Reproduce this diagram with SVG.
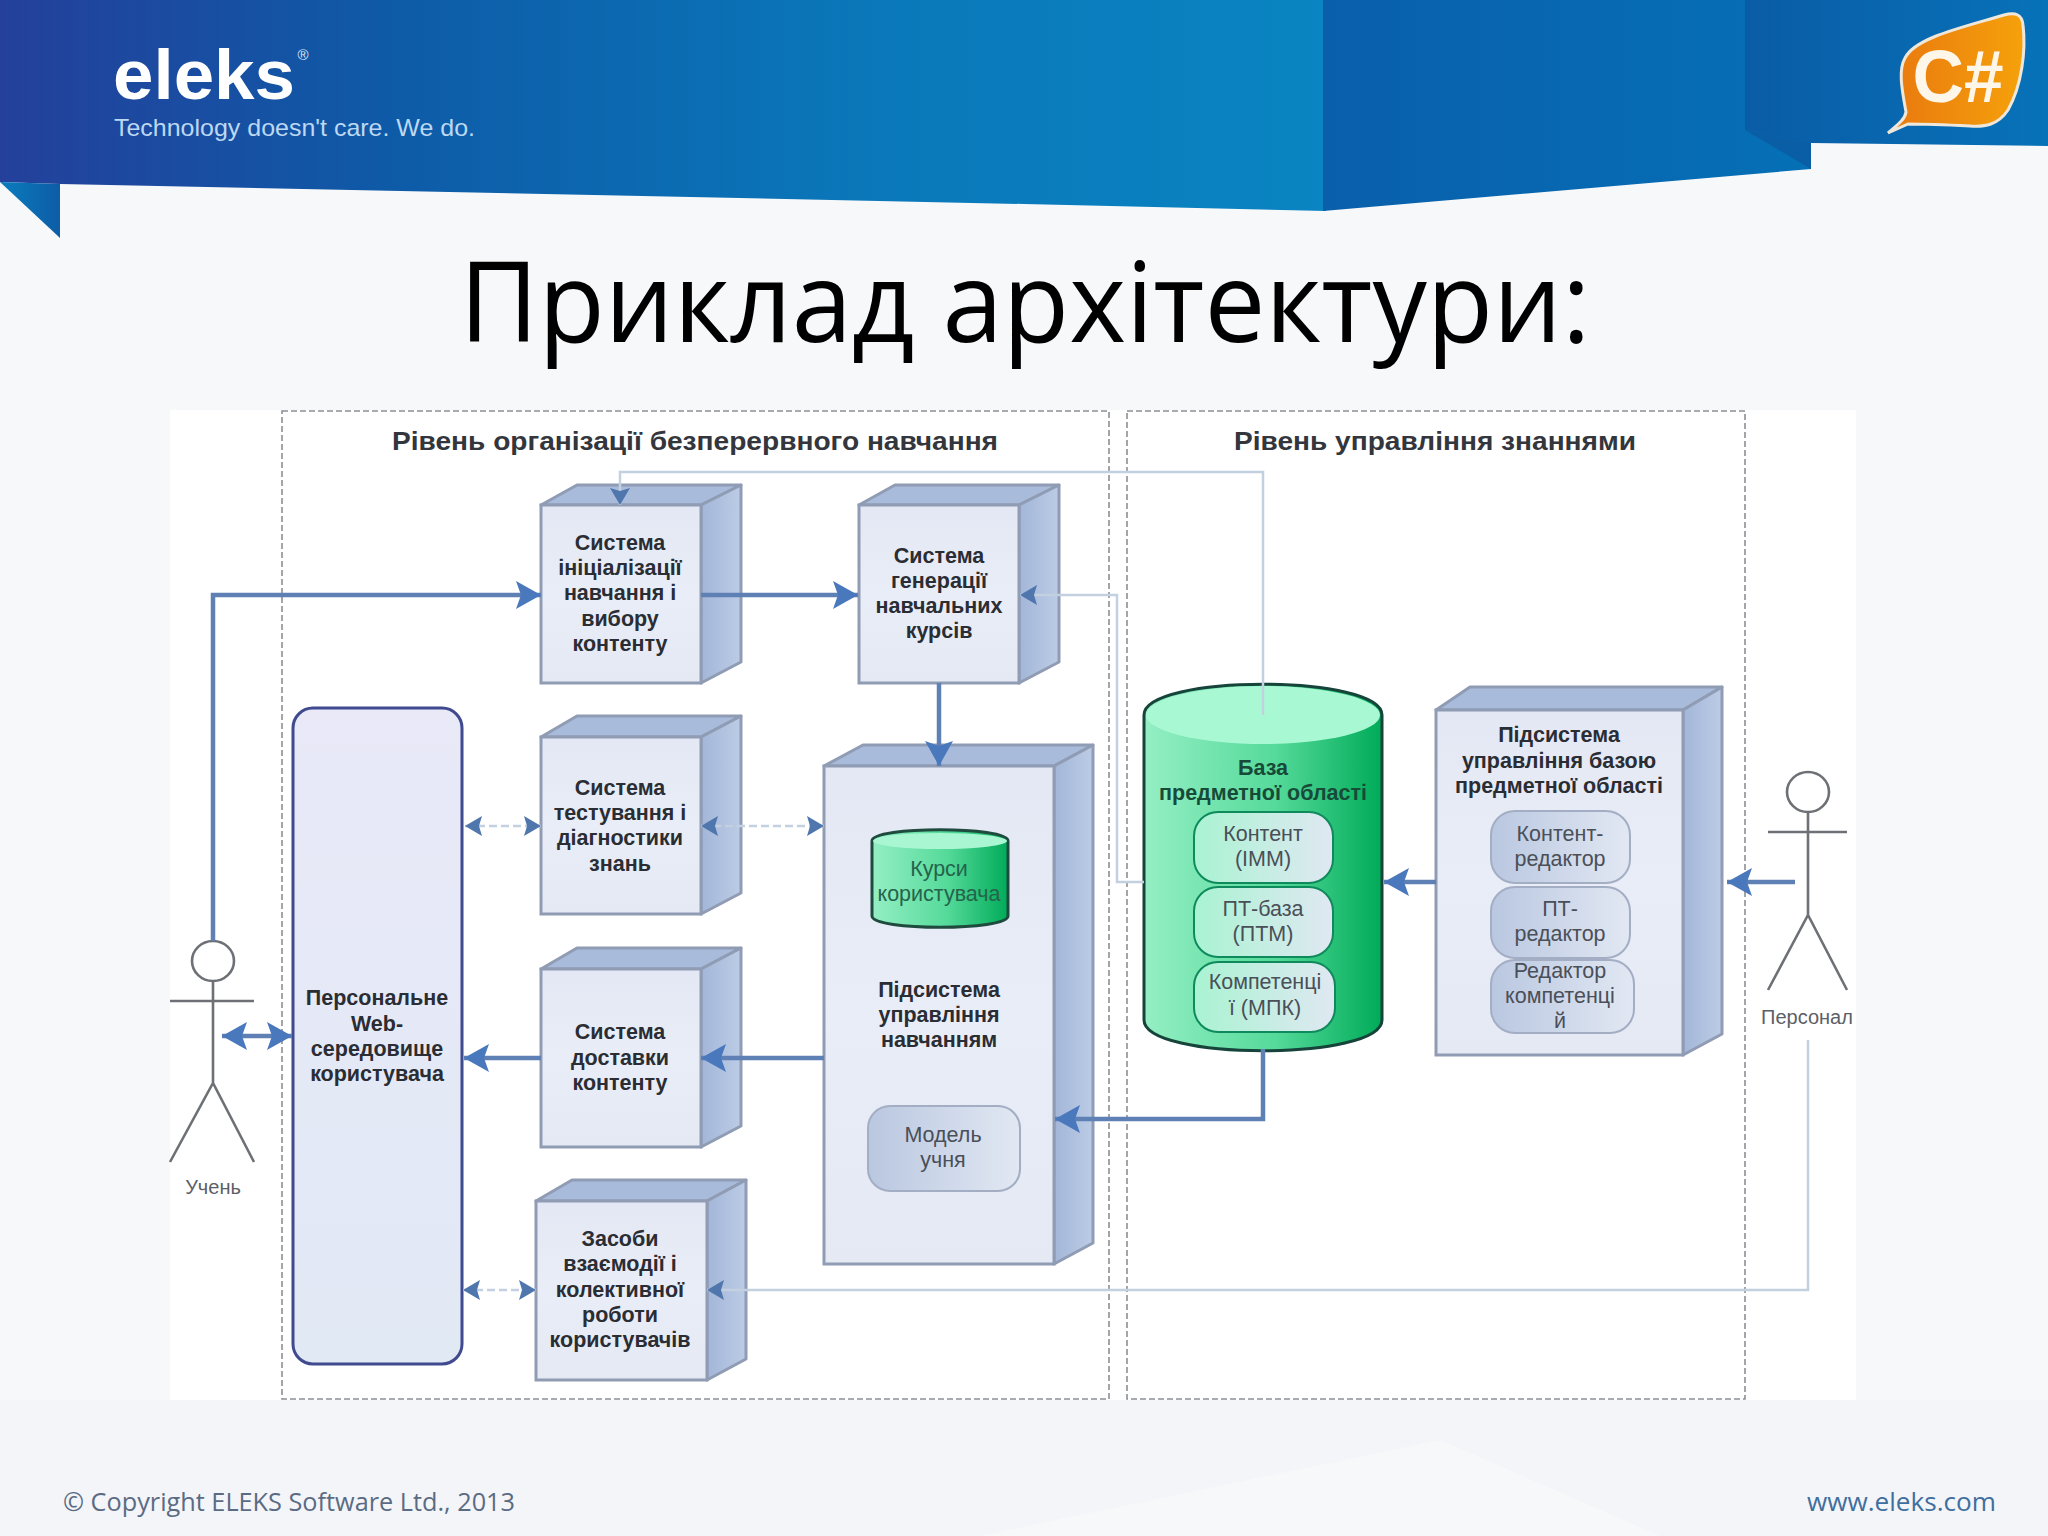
<svg xmlns="http://www.w3.org/2000/svg" width="2048" height="1536" viewBox="0 0 2048 1536">
<style>
text{font-family:"Liberation Sans",Arial,sans-serif;text-anchor:middle}
.lbl{font-size:21.5px;font-weight:700;fill:#2a2d33}
.sm{font-size:21.5px;fill:#4a4f58}
.lvl{font-size:26px;font-weight:700;fill:#33363c}
.act{font-size:20px;fill:#5c6066}
.front{fill:url(#gFront);stroke:#8f9cb4;stroke-width:3}
.top{fill:#a9bbdb;stroke:#8f9cb4;stroke-width:3;stroke-linejoin:round}
.side{fill:url(#gSide);stroke:#8f9cb4;stroke-width:3;stroke-linejoin:round}
.dash{fill:none;stroke:#8b9096;stroke-width:1.6;stroke-dasharray:6 3}
.thick{fill:none;stroke:#5f80b4;stroke-width:4.5}
.thin{fill:none;stroke:#c3d0df;stroke-width:2.5}
.thindash{fill:none;stroke:#c3d0df;stroke-width:2.5;stroke-dasharray:8 4}
.stick{fill:none;stroke:#6d7075;stroke-width:2.6}
.blue{fill:url(#gBlueChip);stroke:#a3aec4;stroke-width:2}
.green{fill:url(#gGreenChip);stroke:#0f8a5c;stroke-width:2}
</style>
<defs>
<linearGradient id="gHead" x1="0" x2="1" y1="0" y2="0"><stop offset="0" stop-color="#24409b"/><stop offset=".3" stop-color="#0e5ba8"/><stop offset=".66" stop-color="#0a78ba"/><stop offset="1" stop-color="#0a84c2"/></linearGradient>
<linearGradient id="gHead2" x1="0" x2="1" y1="0" y2="0"><stop offset="0" stop-color="#0a5fab"/><stop offset="1" stop-color="#0570b6"/></linearGradient>
<linearGradient id="gHead3" x1="0" x2="1" y1="0" y2="0"><stop offset="0" stop-color="#0a5ca6"/><stop offset="1" stop-color="#0772b8"/></linearGradient>
<linearGradient id="gTail" x1="0" x2="1" y1="0" y2="0"><stop offset="0" stop-color="#0a7dbe"/><stop offset="1" stop-color="#0d5ca6"/></linearGradient>
<linearGradient id="gOrange" x1="0" x2="1" y1="0" y2="0"><stop offset="0" stop-color="#e8780f"/><stop offset="1" stop-color="#f6a10b"/></linearGradient>
<linearGradient id="gFront" x1="0" x2="0" y1="0" y2="1"><stop offset="0" stop-color="#e3e8f4"/><stop offset=".5" stop-color="#e9edf7"/><stop offset="1" stop-color="#e4e9f4"/></linearGradient>
<linearGradient id="gSide" x1="0" x2="1" y1="0" y2="0"><stop offset="0" stop-color="#a3b6d8"/><stop offset="1" stop-color="#bccce6"/></linearGradient>
<linearGradient id="gWeb" x1="0" x2="0" y1="0" y2="1"><stop offset="0" stop-color="#e9e9f8"/><stop offset="1" stop-color="#e1e9f5"/></linearGradient>
<linearGradient id="gCyl" x1="0" x2="1" y1="0" y2="0"><stop offset="0" stop-color="#95efc4"/><stop offset=".55" stop-color="#55da9a"/><stop offset="1" stop-color="#00ab58"/></linearGradient>
<linearGradient id="gBlueChip" x1="0" x2="1" y1="0" y2="0"><stop offset="0" stop-color="#b9c7e0"/><stop offset="1" stop-color="#e2e8f3"/></linearGradient>
<linearGradient id="gGreenChip" x1="0" x2="1" y1="0" y2="0"><stop offset="0" stop-color="#a9f3d2"/><stop offset="1" stop-color="#e0e8f2"/></linearGradient>
<marker id="hB" markerUnits="userSpaceOnUse" markerWidth="26" markerHeight="28" viewBox="0 0 26 28" refX="25" refY="14" orient="auto-start-reverse"><path d="M0 0L25 14L0 28L5 14Z" fill="#4a78bd"/></marker>
<marker id="hS" markerUnits="userSpaceOnUse" markerWidth="18" markerHeight="20" viewBox="0 0 18 20" refX="17" refY="10" orient="auto-start-reverse"><path d="M0 0L17 10L0 20L3 10Z" fill="#4f76ad"/></marker>
</defs>

<rect width="2048" height="1536" fill="#f7f8fa"/>
<polygon points="0,1400 2048,1400 2048,1536 1660,1536 1440,1440 980,1536 0,1536" fill="#f4f5f8"/>

<g id="header">
<polygon points="0,0 1326,0 1326,211 1024,204 60,184 0,182" fill="url(#gHead)"/>
<polygon points="0,182 60,184 60,238" fill="url(#gTail)"/>
<polygon points="1323,0 1760,0 1811,140 1811,169 1323,211" fill="url(#gHead2)"/>
<polygon points="1745,0 2048,0 2048,146 1811,143 1745,130" fill="url(#gHead3)"/>
<polygon points="1745,130 1811,143 1811,169" fill="#0a5ea6"/>
<text id="logo" x="113" y="99" textLength="182" lengthAdjust="spacingAndGlyphs" style="text-anchor:start;font-size:70px;font-weight:700;fill:#fff">eleks</text>
<text x="303" y="60" style="font-size:15px;fill:#dfe9f5">®</text>
<text x="114" y="136" textLength="361" lengthAdjust="spacingAndGlyphs" style="text-anchor:start;font-size:24px;fill:#bcd8f2">Technology doesn't care. We do.</text>
<path d="M1888 133C1896 126 1905 120 1906 112C1902 90 1898 70 1905 58C1915 38 1960 28 2004 15C2015 12 2022 14 2023 25C2026 50 2022 85 2008 110C1998 125 1985 127 1970 126C1950 125 1925 124 1908 124Z" fill="url(#gOrange)" stroke="#efe7da" stroke-width="3"/>
<text x="1958" y="102" textLength="91" lengthAdjust="spacingAndGlyphs" style="font-size:74px;font-weight:700;fill:#fff6ea">C#</text>
</g>

<text id="title" x="1025" y="342" textLength="1131" lengthAdjust="spacingAndGlyphs" style="font-family:'Open Sans','Noto Sans',sans-serif;font-size:112px;fill:#000">Приклад архітектури:</text>

<rect id="panel" x="170" y="410" width="1686" height="990" fill="#fff"/>
<g id="levels">
<rect class="dash" x="282" y="411" width="827" height="988"/>
<rect class="dash" x="1127" y="411" width="618" height="988"/>
<text class="lvl" x="695" y="450" textLength="606" lengthAdjust="spacingAndGlyphs">Рівень організації безперервного навчання</text>
<text class="lvl" x="1435" y="450" textLength="402" lengthAdjust="spacingAndGlyphs">Рівень управління знаннями</text>
</g>

<g id="web">
<rect x="293" y="708" width="169" height="656" rx="20" fill="url(#gWeb)" stroke="#3f4a8f" stroke-width="3"/>
<text class="lbl" x="377"><tspan x="377" y="1005">Персональне</tspan><tspan x="377" y="1031">Web-</tspan><tspan x="377" y="1056">середовище</tspan><tspan x="377" y="1081">користувача</tspan></text>
</g>

<g id="box-init">
<polygon class="top" points="541,505 577,485 741,485 701,505"/>
<polygon class="side" points="701,505 741,485 741,662 701,683"/>
<rect class="front" x="541" y="505" width="160" height="178"/>
<text class="lbl"><tspan x="620" y="550">Система</tspan><tspan x="620" y="575">ініціалізації</tspan><tspan x="620" y="600">навчання і</tspan><tspan x="620" y="626">вибору</tspan><tspan x="620" y="651">контенту</tspan></text>
</g>
<g id="box-gen">
<polygon class="top" points="859,505 895,485 1059,485 1019,505"/>
<polygon class="side" points="1019,505 1059,485 1059,662 1019,683"/>
<rect class="front" x="859" y="505" width="160" height="178"/>
<text class="lbl"><tspan x="939" y="563">Система</tspan><tspan x="939" y="588">генерації</tspan><tspan x="939" y="613">навчальних</tspan><tspan x="939" y="638">курсів</tspan></text>
</g>
<g id="box-test">
<polygon class="top" points="541,737 577,716 741,716 701,737"/>
<polygon class="side" points="701,737 741,716 741,893 701,914"/>
<rect class="front" x="541" y="737" width="160" height="177"/>
<text class="lbl"><tspan x="620" y="795">Система</tspan><tspan x="620" y="820">тестування і</tspan><tspan x="620" y="845">діагностики</tspan><tspan x="620" y="871">знань</tspan></text>
</g>
<g id="box-delivery">
<polygon class="top" points="541,969 577,948 741,948 701,969"/>
<polygon class="side" points="701,969 741,948 741,1126 701,1147"/>
<rect class="front" x="541" y="969" width="160" height="178"/>
<text class="lbl"><tspan x="620" y="1039">Система</tspan><tspan x="620" y="1065">доставки</tspan><tspan x="620" y="1090">контенту</tspan></text>
</g>
<g id="box-collab">
<polygon class="top" points="536,1201 572,1180 746,1180 707,1201"/>
<polygon class="side" points="707,1201 746,1180 746,1359 707,1380"/>
<rect class="front" x="536" y="1201" width="171" height="179"/>
<text class="lbl"><tspan x="620" y="1246">Засоби</tspan><tspan x="620" y="1271">взаємодії і</tspan><tspan x="620" y="1297">колективної</tspan><tspan x="620" y="1322">роботи</tspan><tspan x="620" y="1347">користувачів</tspan></text>
</g>

<g id="box-learning">
<polygon class="top" points="824,766 863,745 1093,745 1054,766"/>
<polygon class="side" points="1054,766 1093,745 1093,1243 1054,1264"/>
<rect class="front" x="824" y="766" width="230" height="498"/>
<text class="lbl"><tspan x="939" y="997">Підсистема</tspan><tspan x="939" y="1022">управління</tspan><tspan x="939" y="1047">навчанням</tspan></text>
<path d="M872 841C872 826 1008 826 1008 841V916C1008 931 872 931 872 916Z" fill="url(#gCyl)" stroke="#1f4a3e" stroke-width="3"/>
<ellipse cx="940" cy="841" rx="67" ry="8" fill="#a8f6d2"/>
<text class="sm" style="fill:#24634c"><tspan x="939" y="876">Курси</tspan><tspan x="939" y="901">користувача</tspan></text>
<rect class="blue" x="868" y="1106" width="152" height="85" rx="22"/>
<text class="sm"><tspan x="943" y="1142">Модель</tspan><tspan x="943" y="1167">учня</tspan></text>
</g>

<g id="db">
<path d="M1144 715C1144 674 1382 674 1382 715V1020C1382 1061 1144 1061 1144 1020Z" fill="url(#gCyl)" stroke="#16433a" stroke-width="3"/>
<ellipse cx="1263" cy="715" rx="117" ry="29" fill="#a8f8d4"/>
<text class="lbl" style="fill:#174a38"><tspan x="1263" y="775">База</tspan><tspan x="1263" y="800">предметної області</tspan></text>
<rect class="green" x="1194" y="812" width="139" height="71" rx="24"/>
<text class="sm"><tspan x="1263" y="841">Контент</tspan><tspan x="1263" y="866">(ІММ)</tspan></text>
<rect class="green" x="1194" y="887" width="139" height="70" rx="24"/>
<text class="sm"><tspan x="1263" y="916">ПТ-база</tspan><tspan x="1263" y="941">(ПТМ)</tspan></text>
<rect class="green" x="1194" y="962" width="141" height="70" rx="24"/>
<text class="sm"><tspan x="1265" y="989">Компетенці</tspan><tspan x="1265" y="1015">ї (МПК)</tspan></text>
</g>

<g id="box-domain">
<polygon class="top" points="1436,710 1470,687 1722,687 1683,710"/>
<polygon class="side" points="1683,710 1722,687 1722,1034 1683,1055"/>
<rect class="front" x="1436" y="710" width="247" height="345"/>
<text class="lbl"><tspan x="1559" y="742">Підсистема</tspan><tspan x="1559" y="768">управління базою</tspan><tspan x="1559" y="793">предметної області</tspan></text>
<rect class="blue" x="1491" y="811" width="139" height="72" rx="24"/>
<text class="sm"><tspan x="1560" y="841">Контент-</tspan><tspan x="1560" y="866">редактор</tspan></text>
<rect class="blue" x="1491" y="887" width="139" height="71" rx="24"/>
<text class="sm"><tspan x="1560" y="916">ПТ-</tspan><tspan x="1560" y="941">редактор</tspan></text>
<rect class="blue" x="1491" y="960" width="143" height="73" rx="24"/>
<text class="sm"><tspan x="1560" y="978">Редактор</tspan><tspan x="1560" y="1003">компетенці</tspan><tspan x="1560" y="1028">й</tspan></text>
</g>

<g id="actor-student">
<ellipse class="stick" cx="213" cy="961" rx="21" ry="20"/>
<path class="stick" d="M213 981V1083M170 1001H254M170 1162L213 1083L254 1162"/>
<text class="act" x="213" y="1194">Учень</text>
</g>
<g id="actor-staff">
<ellipse class="stick" cx="1808" cy="792" rx="21" ry="20"/>
<path class="stick" d="M1808 812V915M1768 832H1847M1768 990L1808 915L1847 990"/>
<text class="act" x="1807" y="1024">Персонал</text>
</g>

<g id="connectors">
<path class="thin" d="M1263 715V472H620V505" marker-end="url(#hS)"/>
<path class="thin" d="M1144 882H1117V595H1020" marker-end="url(#hS)"/>
<path class="thindash" d="M465 826H541" marker-start="url(#hS)" marker-end="url(#hS)"/>
<path class="thindash" d="M701 826H824" marker-start="url(#hS)" marker-end="url(#hS)"/>
<path class="thindash" d="M463 1290H536" marker-start="url(#hS)" marker-end="url(#hS)"/>
<path class="thin" d="M1808 1040V1290H707" marker-end="url(#hS)"/>
<path class="thick" d="M213 941V595H541" marker-end="url(#hB)"/>
<path class="thick" d="M701 595H858" marker-end="url(#hB)"/>
<path class="thick" d="M939 683V766" marker-end="url(#hB)"/>
<path class="thick" d="M824 1058H701" marker-end="url(#hB)"/>
<path class="thick" d="M541 1058H464" marker-end="url(#hB)"/>
<path class="thick" d="M222 1036H292" marker-start="url(#hB)" marker-end="url(#hB)"/>
<path class="thick" d="M1263 1049V1119H1055" marker-end="url(#hB)"/>
<path class="thick" d="M1436 882H1384" marker-end="url(#hB)"/>
<path class="thick" d="M1795 882H1727" marker-end="url(#hB)"/>
</g>

<g id="footer">
<text x="63" y="1511" textLength="452" lengthAdjust="spacingAndGlyphs" style="text-anchor:start;font-family:'Open Sans',sans-serif;font-size:25px;fill:#5a6b84">© Copyright ELEKS Software Ltd., 2013</text>
<text x="1807" y="1511" textLength="189" lengthAdjust="spacingAndGlyphs" style="text-anchor:start;font-family:'Open Sans',sans-serif;font-size:25px;fill:#3f6f9f">www.eleks.com</text>
</g>
</svg>
